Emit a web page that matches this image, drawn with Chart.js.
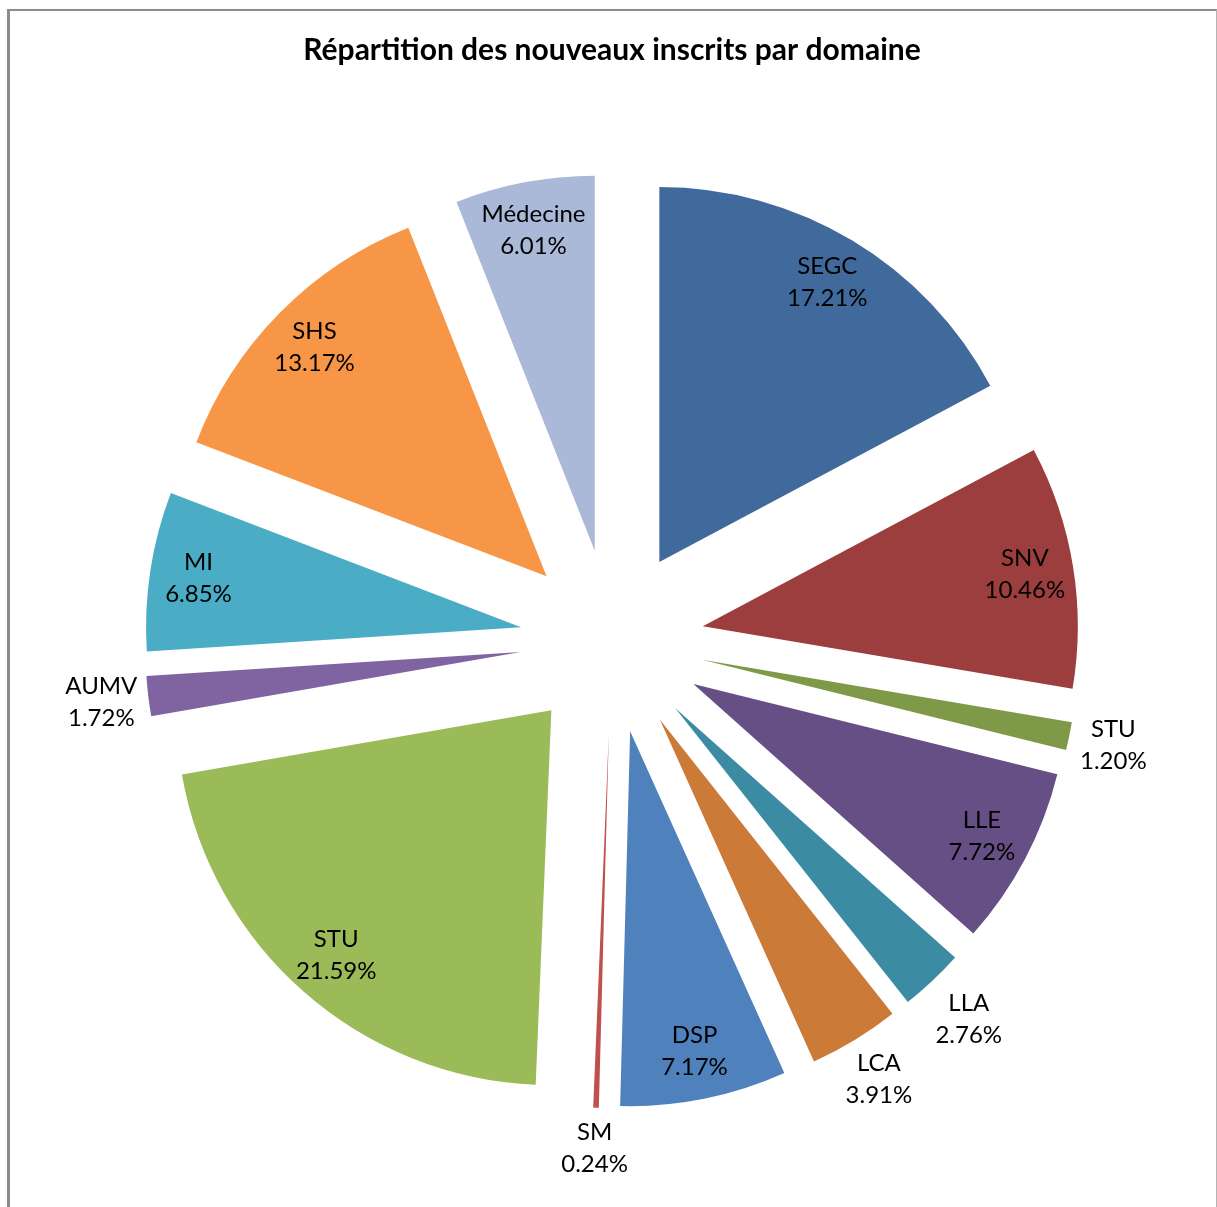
<!DOCTYPE html>
<html>
<head>
<meta charset="utf-8">
<title>Répartition des nouveaux inscrits par domaine</title>
<script src="https://cdn.jsdelivr.net/npm/chart.js@4.4.0/dist/chart.umd.min.js"></script>
<style>
    html, body { margin: 0; padding: 0; background: #fff; overflow: hidden; }
    #wrap { position: relative; width: 1217px; height: 1207px; }
    #frame {
        position: absolute; left: 7px; top: 9px; width: 1210px; height: 1260px;
        box-sizing: border-box; pointer-events: none;
        border-left: 3px solid #8c8c8c; border-top: 2px solid #8c8c8c; border-right: 1px solid #b4b4b4;
    }
</style>
</head>
<body>
<div id="wrap">
    <canvas id="pie" width="1217" height="1207"></canvas>
    <div id="frame"></div>
</div>
<script>
// Data
const categories = ['SEGC', 'SNV', 'STU', 'LLE', 'LLA', 'LCA', 'DSP', 'SM', 'STU', 'AUMV', 'MI', 'SHS', 'Médecine'];
const shares = [17.21, 10.46, 1.20, 7.72, 2.76, 3.91, 7.17, 0.24, 21.59, 1.72, 6.85, 13.17, 6.01];
const sliceColors = ['#40699c', '#9d3e3e', '#7e9a48', '#664f85', '#3b8ca3', '#cc7a38', '#4f81bd',
                     '#c0504d', '#9bbb59', '#8064a2', '#4bacc6', '#f79646', '#aab9d8'];

const RADIUS = 375;
const EXPLODE = 92;      // every slice pulled out the same way
const LABEL_FONT = '24px Lato';
const LINE_GAP = 32;

// draw each arc shifted out along its middle angle (Excel style explode)
const explodePlugin = {
    id: 'explode',
    beforeDatasetDraw(chart, args) {
        const ctx = chart.ctx;
        args.meta.data.forEach(arc => {
            const mid = (arc.startAngle + arc.endAngle) / 2;
            ctx.save();
            ctx.translate(Math.cos(mid) * EXPLODE, Math.sin(mid) * EXPLODE);
            arc.draw(ctx, chart.chartArea);
            ctx.restore();
        });
        return false;
    }
};

// name + percent, inside big slices, outside small ones
const labelPlugin = {
    id: 'sliceLabels',
    afterDatasetsDraw(chart) {
        const ctx = chart.ctx;
        const meta = chart.getDatasetMeta(0);
        ctx.save();
        ctx.font = LABEL_FONT;
        ctx.fillStyle = '#000';
        ctx.textAlign = 'center';
        ctx.textBaseline = 'middle';
        meta.data.forEach((arc, i) => {
            const mid = (arc.startAngle + arc.endAngle) / 2;
            const cos = Math.cos(mid), sin = Math.sin(mid);
            const line2 = shares[i].toFixed(2) + '%';
            let dist;
            if (shares[i] < 5) {
                // outside: keep the label box just clear of the slice edge
                const hw = Math.max(ctx.measureText(categories[i]).width, ctx.measureText(line2).width) / 2 + 2;
                const hh = LINE_GAP;
                const edge = Math.min(Math.abs(cos) > 0.01 ? hw / Math.abs(cos) : 1e9,
                                      Math.abs(sin) > 0.01 ? hh / Math.abs(sin) : 1e9);
                dist = EXPLODE + arc.outerRadius + 9 + edge;
            } else {
                dist = EXPLODE + arc.outerRadius * 0.87;
            }
            const x = arc.x + cos * dist;
            const y = arc.y + sin * dist;
            ctx.fillText(categories[i], x, y - LINE_GAP / 2);
            ctx.fillText(line2, x, y + LINE_GAP / 2);
        });
        ctx.restore();
    }
};

new Chart(document.getElementById('pie'), {
    type: 'pie',
    data: {
        labels: categories,
        datasets: [{
            data: shares,
            backgroundColor: sliceColors,
            borderWidth: 0,
            offset: 0,
            hoverOffset: 0,
            radius: RADIUS
        }]
    },
    options: {
        responsive: false,
        animation: false,
        events: [],
        layout: { padding: { left: 7, right: 0, top: 0, bottom: 0 } },
        plugins: {
            legend: { display: false },
            tooltip: { enabled: false },
            title: {
                display: true,
                text: 'Répartition des nouveaux inscrits par domaine',
                color: '#000',
                font: { family: 'Lato', size: 30, weight: 'bold' },
                padding: { top: 32, bottom: 7 }
            }
        }
    },
    plugins: [explodePlugin, labelPlugin]
});
</script>
</body>
</html>
